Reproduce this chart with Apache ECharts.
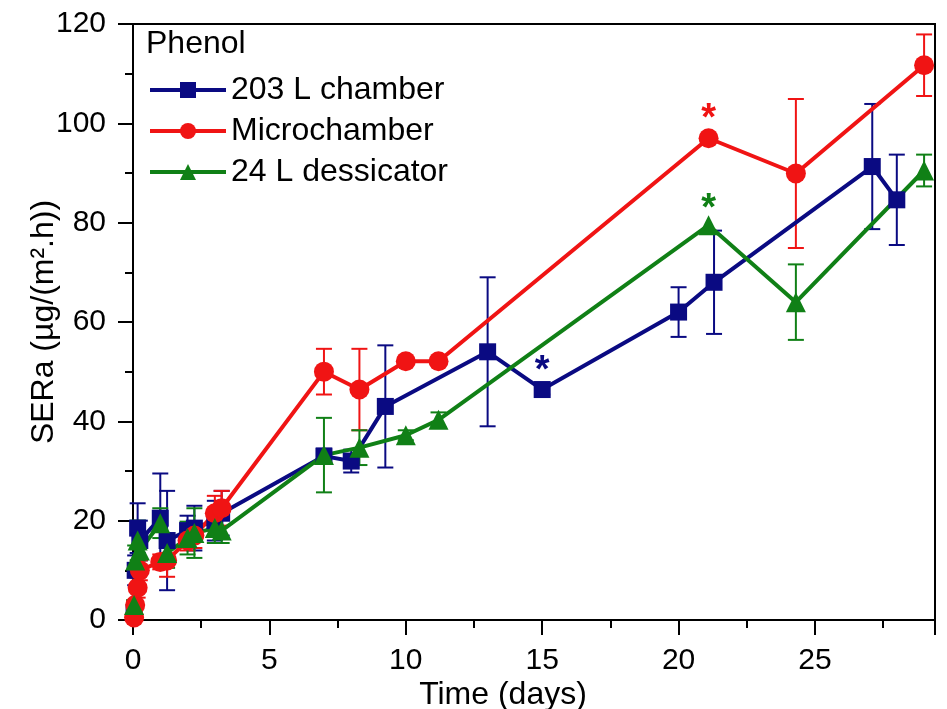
<!DOCTYPE html>
<html>
<head>
<meta charset="utf-8">
<script src="https://cdn.jsdelivr.net/npm/echarts@6/dist/echarts.min.js"></script>
<style>
  html, body { margin: 0; padding: 0; background: #fff; }
  #chart { width: 947px; height: 709px; }
</style>
</head>
<body>
<div id="chart"></div>
<script>
// 203 L chamber
var chamberDays = [0.04, 0.08, 0.17, 0.25, 1.0, 1.25, 2.0, 2.25, 3.0, 3.25, 7.0, 8.0, 9.25, 13.0, 15.0, 20.0, 21.3, 27.1, 28.0];
var chamberSERa = [1.5, 10, 18.5, 16, 20.5, 16, 18, 18.5, 20, 21.5, 33, 32, 43, 54, 46.4, 62, 68, 91.3, 84.6];
var chamberErr  = [1, 3, 5, 4, 9, 10, 3, 4.5, 4, 4.5, 1.5, 2.3, 12.3, 15, 1, 5, 10.4, 12.6, 9.1];

// Microchamber
var microDays = [0.04, 0.08, 0.17, 0.25, 1.0, 1.25, 2.0, 2.25, 3.0, 3.25, 7.0, 8.3, 10.0, 11.2, 21.1, 24.3, 29.0];
var microSERa = [0.5, 3, 6.5, 10, 11.7, 12, 16, 17, 21.5, 22.5, 50, 46.4, 52.1, 52.1, 97, 89.9, 111.7];
var microErr  = [0.5, 1, 2, 2, 1.5, 3.3, 2, 2.5, 3.5, 3.5, 4.6, 8.2, 0.8, 0.8, 0, 15, 6.2];

// 24 L dessicator
var dessDays = [0.04, 0.08, 0.17, 0.25, 1.0, 1.25, 2.0, 2.25, 3.0, 3.25, 7.0, 8.3, 10.0, 11.2, 21.1, 24.3, 29.0];
var dessSERa = [3, 12, 16, 14, 19.5, 13.5, 16.5, 17.5, 18.5, 18, 33.2, 34.7, 37.2, 40.3, 79.5, 64, 90.5];
var dessErr  = [1, 3, 4, 3, 3, 3, 3.3, 5, 3, 2.5, 7.5, 3.5, 1, 1.5, 0, 7.6, 3.2];

// significance stars [day, SERa where the star sits]
var chamberStars = [[15.0, 52]];
var microStars = [[21.1, 102.7]];
var dessStars = [[21.1, 84.6]];

var BLUE = '#0a0a82';
var RED = '#f01414';
var GREEN = '#108016';
var FONT = 'Liberation Sans';

function pack(days, vals, errs) {
  return days.map(function (d, i) { return [d, vals[i], errs[i]]; });
}

function errorBars(color) {
  return function (params, api) {
    var x = api.value(0), y = api.value(1), e = api.value(2);
    if (!e) return;
    var top = api.coord([x, y + e]);
    var bot = api.coord([x, y - e]);
    var hw = 8;
    var style = { stroke: color, lineWidth: 2 };
    return {
      type: 'group',
      children: [
        { type: 'line', shape: { x1: top[0], y1: top[1], x2: bot[0], y2: bot[1] }, style: style },
        { type: 'line', shape: { x1: top[0] - hw, y1: top[1], x2: top[0] + hw, y2: top[1] }, style: style },
        { type: 'line', shape: { x1: bot[0] - hw, y1: bot[1], x2: bot[0] + hw, y2: bot[1] }, style: style }
      ]
    };
  };
}

// asterisk glyph sits high in its box, push it down a bit so the visible star lands on the value
function starText(color) {
  return function (params, api) {
    var p = api.coord([api.value(0), api.value(1)]);
    return {
      type: 'text',
      x: p[0], y: p[1] + 10,
      style: {
        text: '*', fill: color,
        font: 'bold 38px "' + FONT + '"',
        align: 'center', verticalAlign: 'middle'
      }
    };
  };
}

function lineSeries(name, color, symbol, size, data) {
  return {
    name: name,
    type: 'line',
    data: data,
    symbol: symbol,
    symbolSize: size,
    itemStyle: { color: color },
    lineStyle: { color: color, width: 4 },
    z: 3
  };
}

function errSeries(color, data) {
  return { type: 'custom', renderItem: errorBars(color), data: data, z: 2, silent: true };
}

function starSeries(color, data) {
  return { type: 'custom', renderItem: starText(color), data: data, z: 4, silent: true };
}

var chamberData = pack(chamberDays, chamberSERa, chamberErr);
var microData = pack(microDays, microSERa, microErr);
var dessData = pack(dessDays, dessSERa, dessErr);

var chart = echarts.init(document.getElementById('chart'));

chart.setOption({
  backgroundColor: '#fff',
  animation: false,
  grid: {
    left: 133, right: 12, top: 24, bottom: 89,
    outerBoundsMode: 'none',
    containLabel: false,
    show: true, borderColor: '#000', borderWidth: 2
  },
  graphic: [{
    type: 'text',
    left: 146, top: 28,
    style: { text: 'Phenol', font: '32px "' + FONT + '"', fill: '#000' }
  }],
  legend: {
    data: ['203 L chamber', 'Microchamber', '24 L dessicator'],
    orient: 'vertical',
    left: 143, top: 69,
    itemWidth: 76, itemHeight: 20, itemGap: 9,
    lineStyle: { width: 4 },
    textStyle: { fontSize: 32, fontFamily: FONT, color: '#000' }
  },
  xAxis: {
    type: 'value',
    min: 0, max: 29.4, interval: 5,
    name: 'Time (days)',
    nameLocation: 'middle',
    nameGap: 59,
    nameMoveOverlap: false,
    nameTextStyle: { fontSize: 32, fontFamily: FONT, color: '#000', padding: [0, 62, 0, 0] },
    axisLine: { show: true, onZero: false, lineStyle: { color: '#000', width: 2 } },
    axisTick: { show: true, inside: false, length: 15, lineStyle: { color: '#000', width: 2 } },
    minorTick: { show: true, splitNumber: 2, length: 8, lineStyle: { color: '#000', width: 2 } },
    axisLabel: { fontSize: 30, fontFamily: FONT, color: '#000', margin: 26, showMaxLabel: false },
    splitLine: { show: false }
  },
  yAxis: {
    type: 'value',
    min: 0, max: 120, interval: 20,
    name: 'SERa (µg/(m².h))',
    nameLocation: 'middle',
    nameGap: 73,
    nameMoveOverlap: false,
    nameRotate: 90,
    nameTextStyle: { fontSize: 32, fontFamily: FONT, color: '#000' },
    axisLine: { show: true, lineStyle: { color: '#000', width: 2 } },
    axisTick: { show: true, inside: false, length: 15, lineStyle: { color: '#000', width: 2 } },
    minorTick: { show: true, splitNumber: 2, length: 8, lineStyle: { color: '#000', width: 2 } },
    axisLabel: { fontSize: 30, fontFamily: FONT, color: '#000', margin: 27 },
    splitLine: { show: false }
  },
  series: [
    errSeries(BLUE, chamberData),
    errSeries(RED, microData),
    errSeries(GREEN, dessData),
    lineSeries('203 L chamber', BLUE, 'rect', 17, chamberData),
    lineSeries('Microchamber', RED, 'circle', 20, microData),
    lineSeries('24 L dessicator', GREEN, 'triangle', 20, dessData),
    starSeries(BLUE, chamberStars),
    starSeries(RED, microStars),
    starSeries(GREEN, dessStars)
  ]
});
</script>
</body>
</html>
